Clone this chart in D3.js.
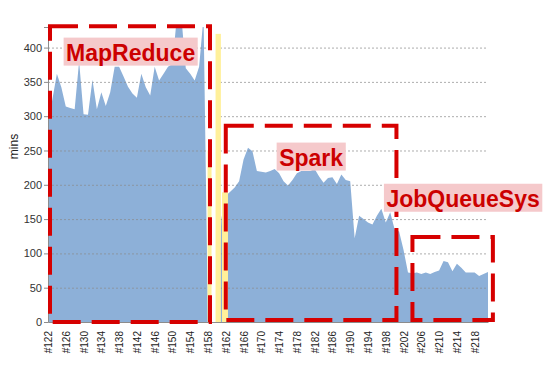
<!DOCTYPE html>
<html>
<head>
<meta charset="utf-8">
<script src="https://cdn.jsdelivr.net/npm/d3@7/dist/d3.min.js"></script>
<style>
  body { margin: 0; background: #fff; }
  svg { display: block; font-family: "Liberation Sans", Arial, sans-serif; }
</style>
</head>
<body>
<svg id="chart" width="552" height="372"></svg>
<script>
// Build runs #122 .. #221
const runs = d3.range(122, 222).map(n => "#" + n);

// Run time in minutes per build
const minutes = [
  290, 325, 362, 342, 314, 312, 310, 380, 303, 302,
  353, 310, 335, 315, 335, 372, 372, 358, 343, 333,
  327, 362, 342, 330, 372, 352, 362, 372, 376, 445,
  445, 370, 362, 352, 372, 445,   0,   0,   0, 150,
  184, 190, 196, 205, 237, 254, 249, 220, 219, 218,
  220, 223, 217, 205, 199, 207, 217, 220, 220, 220,
  223, 212, 203, 210, 211, 201, 215, 207, 205, 122,
  155, 150, 145, 142, 155, 165, 145, 160, 135, 132,
  105,  72,  71,  72,  70,  72,  70,  73,  75,  89,
   87,  74,  85,  79,  72,  72,  72,  67,  70,  73
];

const yTicks = [0, 50, 100, 150, 200, 250, 300, 350, 400];
const xTickRuns = runs.filter((d, i) => i % 4 === 0);

// Annotated regions (in run index / minutes)
const regionNames = ["MapReduce", "Spark", "JobQueueSys"];
const regionStart = [0.45, 40, 82];
const regionEnd   = [36.45, 78.4, 100.1];
const regionTop   = [431, 286, 124];
const labelAt     = [18.6, 59.2, 93.4];
const labelValue  = [381, 228, 168];

const width = 552, height = 372;
const margin = { top: 27, right: 64, bottom: 50, left: 48 };

const svg = d3.select("#chart");

const x = d3.scalePoint()
  .domain(runs)
  .range([margin.left, width - margin.right]);

const y = d3.scaleLinear()
  .domain([0, 430])
  .range([height - margin.bottom, margin.top]);

// position at a (fractional) run index
const xi = i => x(runs[0]) + i * x.step();

svg.append("clipPath").attr("id", "plot-clip")
  .append("rect")
  .attr("x", margin.left)
  .attr("y", margin.top)
  .attr("width", width - margin.left - margin.right)
  .attr("height", height - margin.top - margin.bottom);

// Area
const area = d3.area()
  .x((d, i) => x(runs[i]))
  .y0(y(0))
  .y1(d => y(d));

svg.append("path")
  .datum(minutes)
  .attr("clip-path", "url(#plot-clip)")
  .attr("fill", "#8db0d8")
  .attr("d", area);

// Dotted gridlines
svg.append("g")
  .selectAll("line")
  .data(yTicks.filter(d => d > 0))
  .join("line")
  .attr("x1", margin.left)
  .attr("x2", width - margin.right)
  .attr("y1", d => y(d) + 0.5)
  .attr("y2", d => y(d) + 0.5)
  .attr("stroke", "#8a8a8a")
  .attr("stroke-opacity", 0.7)
  .attr("stroke-dasharray", "2,2");

// Yellow highlight around the gap
svg.append("rect")
  .attr("x", xi(37.5)).attr("width", xi(38.9) - xi(37.5))
  .attr("y", y(420)).attr("height", y(0) - y(420))
  .attr("fill", "#fff09a");
svg.append("rect")
  .attr("x", xi(35.9)).attr("width", xi(37.0) - xi(35.9))
  .attr("y", y(250)).attr("height", y(0) - y(250))
  .attr("fill", "#fff09a");
svg.append("rect")
  .attr("x", xi(35.9) + 4).attr("width", 4)
  .attr("y", y(431)).attr("height", y(0) - y(431))
  .attr("fill", "#fff");
svg.append("rect")
  .attr("x", xi(39.15)).attr("width", xi(40.5) - xi(39.15))
  .attr("y", y(189)).attr("height", y(0) - y(189))
  .attr("fill", "#fff09a");

// Axes
const yAxis = svg.append("g")
  .attr("transform", `translate(${margin.left},0)`)
  .call(d3.axisLeft(y).tickValues(yTicks).tickSize(4).tickPadding(2));
yAxis.select(".domain").attr("stroke", "#8c8c8c");
yAxis.selectAll(".tick line").attr("stroke", "#8c8c8c");
yAxis.selectAll("text")
  .attr("fill", "#333")
  .style("font-size", "11px");

const xAxis = svg.append("g")
  .attr("transform", `translate(0,${y(0)})`)
  .call(d3.axisBottom(x).tickValues(xTickRuns).tickSize(0));
xAxis.select(".domain").attr("stroke", "#8c8c8c");
xAxis.selectAll("text")
  .attr("transform", "rotate(-90)")
  .attr("text-anchor", "end")
  .attr("x", -9)
  .attr("y", 0)
  .attr("dy", "0.35em")
  .attr("fill", "#222")
  .style("font-size", "10px");

svg.append("text")
  .attr("transform", `translate(14,${(y(0) + y(430)) / 2 - 28}) rotate(-90)`)
  .attr("text-anchor", "middle")
  .attr("dy", "0.35em")
  .attr("fill", "#222")
  .style("font-size", "12px")
  .text("mins");

// Dashed region boxes + labels
regionNames.forEach((name, k) => {
  const x0 = xi(regionStart[k]), x1 = xi(regionEnd[k]);
  const y0 = y(regionTop[k]);
  const y1 = k === 0 ? y(0) : y(0) - 2;

  svg.append("path")
    .attr("d", `M${x0},${y0}H${x1}V${y1}H${x0}Z`)
    .attr("fill", "none")
    .attr("stroke", "#d60000")
    .attr("stroke-width", 4)
    .attr("stroke-dasharray", "28,11");

  const g = svg.append("g");
  const label = g.append("text")
    .attr("x", xi(labelAt[k]))
    .attr("y", y(labelValue[k]))
    .attr("text-anchor", "middle")
    .attr("fill", "#cc0000")
    .style("font-size", "23px")
    .style("font-weight", "bold")
    .text(name);
  const bb = label.node().getBBox();
  g.insert("rect", "text")
    .attr("x", bb.x - 2.5)
    .attr("y", y(labelValue[k]) - 23)
    .attr("width", bb.width + 5)
    .attr("height", 28)
    .attr("fill", "#f5c9cb");
});
</script>
</body>
</html>
